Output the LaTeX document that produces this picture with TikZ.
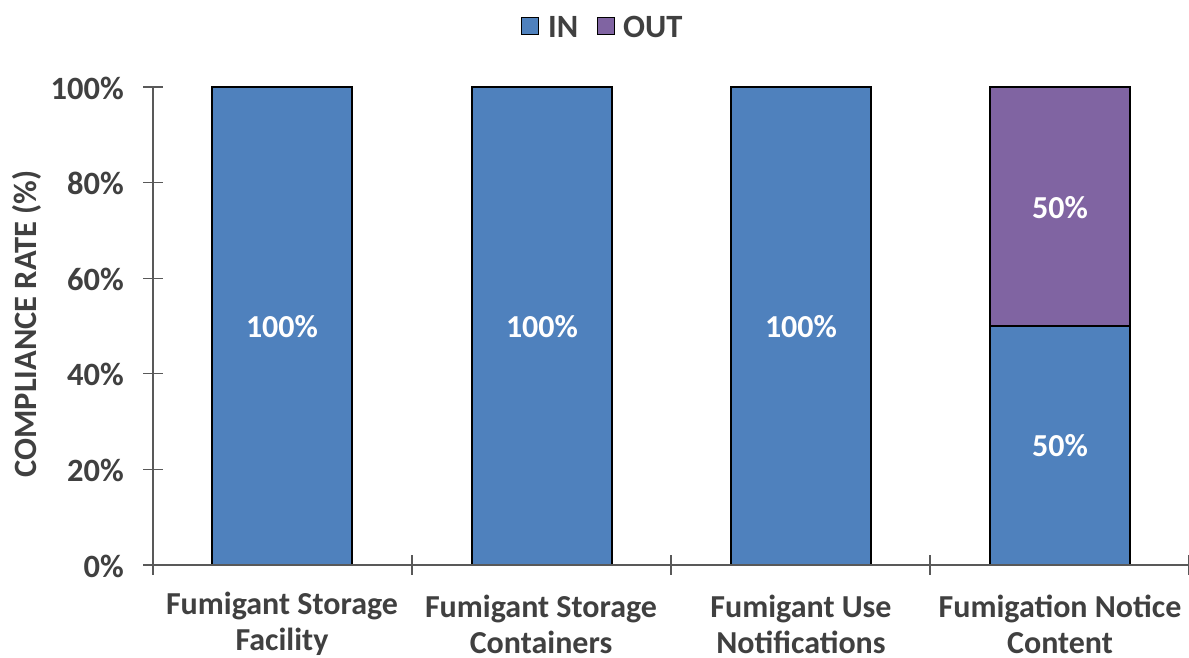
\documentclass[tikz,border=0pt]{standalone}
\usepackage{fontspec}
\setmainfont{Carlito}
\definecolor{inblue}{HTML}{4F81BD}
\definecolor{outpurple}{HTML}{8064A2}
\definecolor{txtgray}{HTML}{404040}
\definecolor{axgray}{HTML}{595959}
\begin{document}
\begin{tikzpicture}[x=1pt,y=-1pt,
  lbl/.style={font=\fontsize{32.5}{36}\selectfont\bfseries, text=txtgray, inner sep=0pt},
  val/.style={font=\fontsize{32}{36}\selectfont\bfseries, text=white, inner sep=0pt},
  cat/.style={font=\fontsize{32}{36}\selectfont\bfseries, text=txtgray, inner sep=0pt, align=center},
  bar/.style={draw=black, line width=1.4pt},
  axis/.style={draw=axgray, line width=1.2pt},
  sw/.style={draw=black, line width=1.4pt, minimum size=17pt, inner sep=0pt}]
\useasboundingbox (0,0) rectangle (1189,658);
% bars
\fill[inblue] (212,565) rectangle (352,87);
\draw[bar] (212,565) -- (212,87) -- (352,87) -- (352,565);
\fill[inblue] (472,565) rectangle (612,87);
\draw[bar] (472,565) -- (472,87) -- (612,87) -- (612,565);
\fill[inblue] (731,565) rectangle (871,87);
\draw[bar] (731,565) -- (731,87) -- (871,87) -- (871,565);
\fill[inblue] (990,565) rectangle (1130,326);
\fill[outpurple] (990,326) rectangle (1130,87);
\draw[bar] (990,565) -- (990,87) -- (1130,87) -- (1130,565);
\draw[bar] (990,326) -- (1130,326);
% axes
\draw[axis] (153,565) -- (153,87);
\draw[axis] (153,565) -- (1189,565);
\foreach \y in {87,182.6,278.2,373.8,469.4,565} \draw[axis] (143,\y) -- (163,\y);
\foreach \x in {153,412,671,930,1188.4} \draw[axis] (\x,555) -- (\x,575);
% y tick labels
\node[lbl, anchor=east] (t100) at (124,88) {100\%};
\node[lbl, anchor=east] (t80) at (124,183.6) {80\%};
\node[lbl, anchor=east] (t60) at (124,279.2) {60\%};
\node[lbl, anchor=east] (t40) at (124,374.8) {40\%};
\node[lbl, anchor=east] (t20) at (124,470.4) {20\%};
\node[lbl, anchor=east] (t0) at (124,566) {0\%};
\node[lbl, rotate=90] (ylab) at (27,324) {COMPLIANCE RATE (\%)};
% value labels
\node[val] (v1) at (282,327) {100\%};
\node[val] (v2) at (542,327) {100\%};
\node[val] (v3) at (801,327) {100\%};
\node[val] (v4) at (1060,446) {50\%};
\node[val] (v5) at (1060,208) {50\%};
% category labels
\node[cat] (c1) at (282,624) {Fumigant Storage\\Facility};
\node[cat] (c2) at (541,624) {Fumigant Storage\\Containers};
\node[cat] (c3) at (801,624) {Fumigant Use\\Notifications};
\node[cat] (c4) at (1060,624) {Fumigation Notice\\Content};
% legend
\node[sw, fill=inblue] (sin) at (530,26) {};
\node[lbl, anchor=west] (lin) at (548,27) {IN};
\node[sw, fill=outpurple] (sout) at (606,26) {};
\node[lbl, anchor=west] (lout) at (623,27) {OUT};
\end{tikzpicture}
\end{document}
